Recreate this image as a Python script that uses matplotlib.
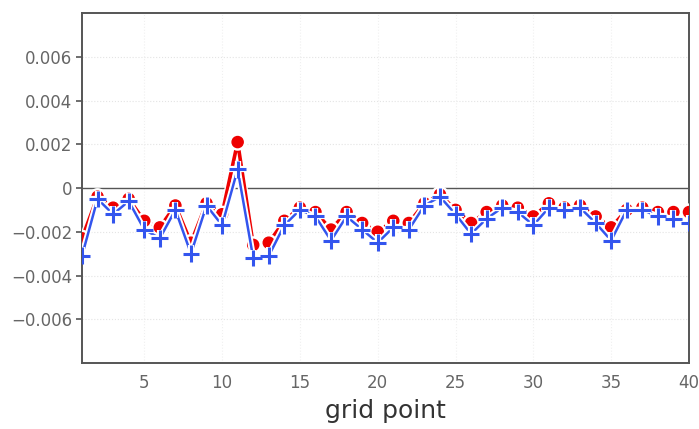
import numpy as np
import matplotlib
matplotlib.use("Agg")
import matplotlib.pyplot as plt
import matplotlib.patheffects as pe

# grid points 1..40
points = np.arange(1, 41)

# red series (filled circles)
red_vals = [-0.0023, -0.0004, -0.0009, -0.0005, -0.0015, -0.0018, -0.0008, -0.0025, -0.0007, -0.0012,
            0.0021, -0.0026, -0.0025, -0.0015, -0.0009, -0.0011, -0.0019, -0.0011, -0.0016, -0.0020,
            -0.0015, -0.0016, -0.0007, -0.0003, -0.0010, -0.0016, -0.0011, -0.0008, -0.0009, -0.0013,
            -0.0007, -0.0009, -0.0008, -0.0013, -0.0018, -0.0010, -0.0009, -0.0011, -0.0011, -0.0011]

# blue series (plus markers)
blue_vals = [-0.0031, -0.0005, -0.0012, -0.0006, -0.0019, -0.0023, -0.0010, -0.0030, -0.0008, -0.0017,
             0.00085, -0.0032, -0.0031, -0.0017, -0.0010, -0.0013, -0.0024, -0.0013, -0.0019, -0.0025,
             -0.0018, -0.0019, -0.0008, -0.0004, -0.0012, -0.0021, -0.0014, -0.0009, -0.0011, -0.0017,
             -0.0009, -0.0010, -0.0009, -0.0016, -0.0024, -0.0010, -0.0010, -0.0013, -0.0014, -0.0016]

yticks = [-0.006, -0.004, -0.002, 0, 0.002, 0.004, 0.006]
ytick_labels = ["\u22120.006", "\u22120.004", "\u22120.002", "0", "0.002", "0.004", "0.006"]
xticks = [5, 10, 15, 20, 25, 30, 35, 40]

fig = plt.figure(figsize=(6.99, 4.29), dpi=100)
ax = fig.add_axes([0.1173, 0.1538, 0.8684, 0.8159])

# faint dotted grid
for y in yticks:
    if y != 0:
        ax.axhline(y, color="#e4e4e4", lw=0.8, ls=":", zorder=0)
for x in xticks[:-1]:
    ax.axvline(x, color="#f0f0f0", lw=0.8, ls=":", zorder=0)
ax.axhline(0, color="#555555", lw=1.0, zorder=1)

halo = [pe.Stroke(linewidth=4.5, foreground="white"), pe.Normal()]
ax.plot(points, red_vals, color="#ee0000", lw=2.6, marker="o", ms=8,
        markeredgecolor="#ee0000", zorder=3, path_effects=halo)
ax.plot(points, blue_vals, color="#3355ee", lw=1.8, marker="+", ms=12, mew=2.2,
        zorder=4, path_effects=halo)

ax.set_xlim(1, 40)
ax.set_ylim(-0.008, 0.008)
ax.set_xticks(xticks)
ax.set_yticks(yticks)
ax.set_yticklabels(ytick_labels)
ax.tick_params(axis="y", direction="out", length=4, width=1.2, color="#555555",
               labelcolor="#666666", labelsize=12, pad=3)
ax.tick_params(axis="x", length=0, labelcolor="#666666", labelsize=12, pad=8)
for s in ax.spines.values():
    s.set_color("#555555")
    s.set_linewidth(1.4)

ax.set_xlabel("grid point", fontsize=18, color="#333333", labelpad=5)

fig.savefig("out.png", dpi=100)
